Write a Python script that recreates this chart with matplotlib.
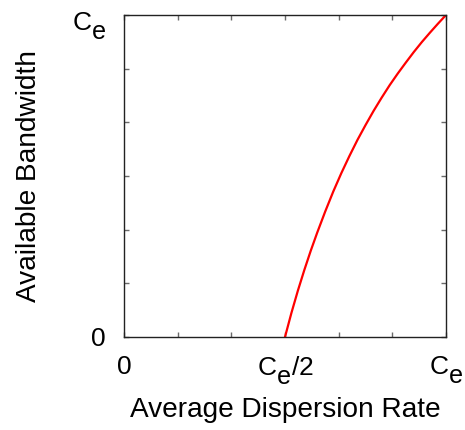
import matplotlib
matplotlib.use("Agg")
import matplotlib.pyplot as plt
import matplotlib._mathtext as _mt
from matplotlib.ticker import FixedLocator, FixedFormatter

plt.rcParams['font.family'] = ['Liberation Sans', 'DejaVu Sans']
plt.rcParams['mathtext.fontset'] = 'custom'
plt.rcParams['mathtext.rm'] = 'Liberation Sans'
plt.rcParams['mathtext.it'] = 'Liberation Sans'
# subscripts in the reference are almost full size and well lowered
_mt.SHRINK_FACTOR = 0.95
_mt.FontConstantsBase.sub1 = 0.65

# Data (fractions of C_e)
dispersion_rate = [0.50, 0.52, 0.54, 0.56, 0.58, 0.60, 0.625, 0.65, 0.675, 0.70, 0.725,
                   0.75, 0.775, 0.80, 0.825, 0.85, 0.875, 0.90, 0.925, 0.95, 0.975, 1.0]
available_bw = [0.0, 0.075, 0.144, 0.208, 0.268, 0.324, 0.390, 0.452, 0.509, 0.562, 0.612,
                0.658, 0.702, 0.743, 0.782, 0.818, 0.852, 0.885, 0.916, 0.945, 0.973, 1.0]

x_ticks = [0, 1/6, 2/6, 3/6, 4/6, 5/6, 1]
x_tick_labels = [r'$\mathrm{0}$', '', '', r'$\mathrm{C}_\mathrm{e}\mathrm{/2}$', '', '',
                 r'$\mathrm{C}_\mathrm{e}$']
y_ticks = [0, 1/6, 2/6, 3/6, 4/6, 5/6, 1]
y_tick_labels = [r'$\mathrm{0}$', '', '', '', '', '', '']
y_top_label = r'$\mathrm{C}_\mathrm{e}$'

fig = plt.figure(figsize=(4.65, 4.30), dpi=100)
ax = fig.add_axes([124/465, 1 - 337/430, 322/465, 322/430])

ax.plot(dispersion_rate, available_bw, color='red', lw=1.6)

ax.set_xlim(0, 1)
ax.set_ylim(0, 1)
ax.xaxis.set_major_locator(FixedLocator(x_ticks))
ax.xaxis.set_major_formatter(FixedFormatter(x_tick_labels))
ax.yaxis.set_major_locator(FixedLocator(y_ticks))
ax.yaxis.set_major_formatter(FixedFormatter(y_tick_labels))
ax.tick_params(direction='in', length=3.6, width=1, color='#6a6a6a',
               top=True, right=True, labelsize=19)
ax.tick_params(axis='x', pad=12.8)
ax.tick_params(axis='y', pad=13.2)

# top y label (C_e) beside the top-left corner
ax.annotate(y_top_label, xy=(0, 1), xycoords='axes fraction',
            xytext=(-18, -16), textcoords='offset pixels',
            ha='right', va='baseline', fontsize=19)

for s in ax.spines.values():
    s.set_linewidth(1)
    s.set_color('#222222')

ax.set_xlabel('Average Dispersion Rate', fontsize=20.2)
ax.set_ylabel('Available Bandwidth', fontsize=20.2)
ax.xaxis.set_label_coords(0.5, -60/322)
ax.yaxis.set_label_coords(-81.5/322, 0.5)

fig.savefig('out.png', dpi=100)
